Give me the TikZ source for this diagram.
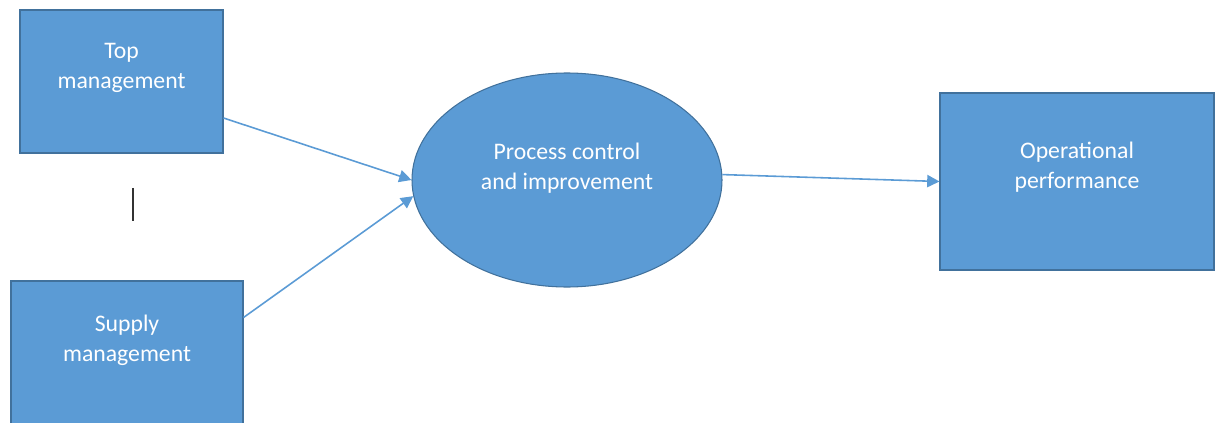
\documentclass[tikz,border=0pt]{standalone}
\usepackage{fontspec}
\setmainfont{Carlito}
\usetikzlibrary{arrows.meta,shapes.geometric}
\definecolor{boxblue}{HTML}{5B9BD5}
\definecolor{edgeblue}{HTML}{41719C}

\begin{document}
\begin{tikzpicture}[box/.style={draw=edgeblue, fill=boxblue, line width=0.6pt, minimum width=#1, inner sep=0pt},
txt/.style={text=white, align=center, font=\fontsize{13.5}{17}\selectfont},
flow/.style={draw=boxblue, line width=0.9pt, -{Triangle[length=7pt, width=7pt]}}]
\useasboundingbox (0,0) rectangle (24.3,-8.46);
\node[box=4.06cm, minimum height=2.86cm] (TopM) at (2.43,-1.63) {};
\node[box=4.64cm, minimum height=2.9cm] (SupM) at (2.54,-7.07) {};
\node[draw=edgeblue, fill=boxblue, line width=0.6pt, ellipse, minimum width=6.2cm, minimum height=4.28cm, inner sep=0pt] (Proc) at (11.34,-3.6) {};
\node[box=5.48cm, minimum height=3.54cm] (OpPerf) at (21.54,-3.63) {};
\node[txt] (TopT) at ([yshift=0.28cm]TopM.center) {Top\\management};
\node[txt] (SupT) at (2.54,-6.8) {Supply\\management};
\node[txt] (ProcT) at ([yshift=0.24cm]Proc.center) {Process control\\and improvement};
\node[txt] (OpT) at ([yshift=0.28cm]OpPerf.center) {Operational\\performance};
\coordinate (Bar1) at (2.66,-3.76);
\coordinate (Bar2) at (2.66,-4.42);
\draw[line width=0.8pt, black!80] (Bar1) -- (Bar2);
\draw[flow] ([yshift=-0.73cm]TopM.east) -- (Proc.west);
\draw[flow] ([yshift=0.72cm]SupM.east) -- (Proc.186);
\draw[flow] (Proc.2.6) -- (OpPerf.west);
\end{tikzpicture}
\end{document}
